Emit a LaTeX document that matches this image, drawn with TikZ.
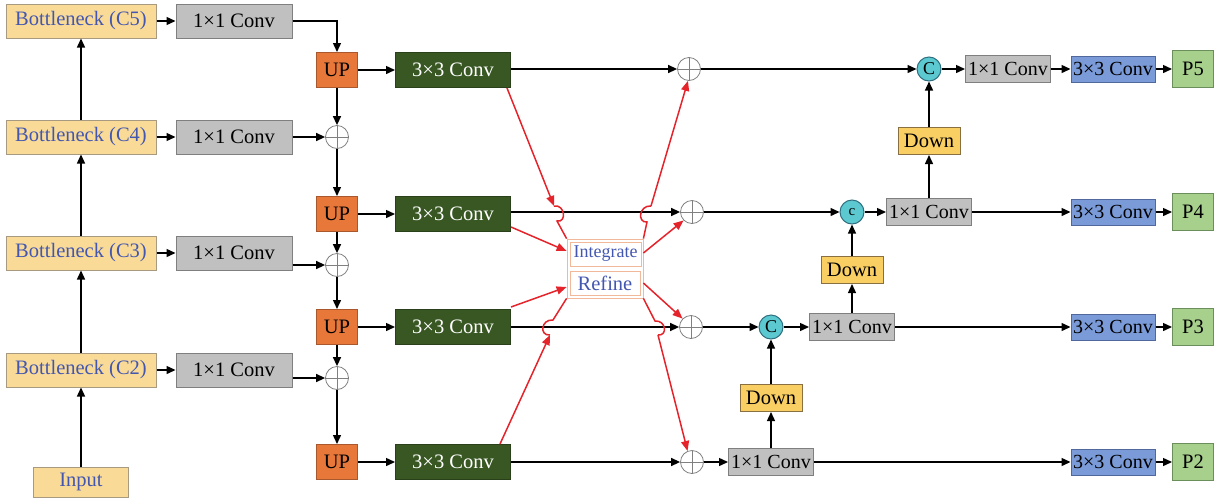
\documentclass[tikz,border=0pt]{standalone}
\usepackage{fontspec}
\setmainfont{Liberation Serif}
\usetikzlibrary{arrows.meta,calc}
\definecolor{bottfill}{HTML}{F9DB97}
\definecolor{bottdraw}{HTML}{A89A80}
\definecolor{bluetext}{HTML}{4356B0}
\definecolor{grayfill}{HTML}{C0C0C0}
\definecolor{graydraw}{HTML}{7F7F7F}
\definecolor{upfill}{HTML}{E8773A}
\definecolor{updraw}{HTML}{A8582C}
\definecolor{greenfill}{HTML}{385723}
\definecolor{greendraw}{HTML}{2A401A}
\definecolor{bluefill}{HTML}{7A9BD8}
\definecolor{bluedraw}{HTML}{50689C}
\definecolor{pfill}{HTML}{A8D08D}
\definecolor{pdraw}{HTML}{6A8F5A}
\definecolor{downfill}{HTML}{F9CF63}
\definecolor{downdraw}{HTML}{8A7040}
\definecolor{cyanfill}{HTML}{5CC8CF}
\definecolor{cyandraw}{HTML}{2F6F80}
\definecolor{redline}{HTML}{E5232A}
\definecolor{peach}{HTML}{F2B89A}
\tikzset{
  base/.style={draw, line width=1pt, inner sep=0pt, font=\fontsize{20.5}{24}\selectfont},
  bott/.style={base, fill=bottfill, draw=bottdraw, text=bluetext, minimum width=150pt, minimum height=34pt},
  conva/.style={base, fill=grayfill, draw=graydraw, minimum width=116pt, minimum height=34pt},
  upbox/.style={base, fill=upfill, draw=updraw, minimum width=41pt, minimum height=35pt},
  gconv/.style={base, fill=greenfill, draw=greendraw, text=white, minimum width=115pt, minimum height=35pt},
  convb/.style={base, fill=grayfill, draw=graydraw, minimum width=85pt, minimum height=27pt, font=\fontsize{20}{24}\selectfont},
  bconv/.style={base, fill=bluefill, draw=bluedraw, minimum width=84pt, minimum height=26pt, font=\fontsize{20}{24}\selectfont},
  pbox/.style={base, fill=pfill, draw=pdraw, minimum width=41pt, minimum height=37pt},
  downbox/.style={base, fill=downfill, draw=downdraw, minimum width=62pt, minimum height=27pt},
  catc/.style={circle, draw=cyandraw, line width=1pt, fill=cyanfill, inner sep=0pt, minimum size=24pt, font=\fontsize{18}{20}\selectfont},
  addc/.style={circle, draw=gray, line width=0.8pt, fill=white, inner sep=0pt, minimum size=23pt,
    path picture={\draw[line width=1pt] (path picture bounding box.north) -- (path picture bounding box.south)
      (path picture bounding box.west) -- (path picture bounding box.east);}},
  arr/.style={line width=1.4pt, -{Triangle[length=9pt,width=8pt]}},
  rarr/.style={line width=1.5pt, draw=redline, -{Triangle[length=10pt,width=8pt]}, color=redline},
  rline/.style={line width=1.5pt, draw=redline},
}
\begin{document}
\begin{tikzpicture}[x=1pt,y=-1pt]
\useasboundingbox (0,0) rectangle (1219,499);
% left column
\node[bott] (b5) at (81,21) {Bottleneck (C5)};
\node[bott] (b4) at (81,137) {Bottleneck (C4)};
\node[bott] (b3) at (81,253) {Bottleneck (C3)};
\node[bott] (b2) at (81,370) {Bottleneck (C2)};
\node[bott, minimum width=95pt, minimum height=30pt] (inp) at (81,482) {Input};
\node[conva] (a5) at (234,21) {1×1 Conv};
\node[conva] (a4) at (234,137) {1×1 Conv};
\node[conva] (a3) at (234,253) {1×1 Conv};
\node[conva] (a2) at (234,370) {1×1 Conv};
% UP column
\node[upbox] (u1) at (337,70) {UP};
\node[upbox] (u2) at (337,214) {UP};
\node[upbox] (u3) at (337,327) {UP};
\node[upbox] (u4) at (337,462) {UP};
\node[addc] (q4) at (337,137) {};
\node[addc] (q3) at (337,265) {};
\node[addc] (q2) at (337,378) {};
% green convs
\node[gconv] (g1) at (453,70) {3×3 Conv};
\node[gconv] (g2) at (453,214) {3×3 Conv};
\node[gconv] (g3) at (453,327) {3×3 Conv};
\node[gconv] (g4) at (453,462) {3×3 Conv};
% integrate / refine
\node[draw=peach, line width=0.8pt, minimum width=76pt, minimum height=59pt, inner sep=0pt] (box) at (605,268.5) {};
\node[draw=peach, line width=0.8pt, minimum width=71pt, minimum height=24pt, inner sep=0pt, text=bluetext, font=\fontsize{18}{20}\selectfont] (integ) at (605.5,254) {Integrate};
\node[draw=peach, line width=0.8pt, minimum width=70pt, minimum height=24pt, inner sep=0pt, text=bluetext, font=\fontsize{20.5}{24}\selectfont] (refine) at (605,283) {Refine};
% right plus column
\node[addc] (p1) at (689,69) {};
\node[addc] (p2) at (692,212) {};
\node[addc] (p3) at (691,327) {};
\node[addc] (p4) at (692,462) {};
% concat circles
\node[catc] (c1) at (929,69) {C};
\node[catc, font=\fontsize{15}{18}\selectfont] (c2) at (852,212) {c};
\node[catc] (c3) at (771,327) {C};
% right 1x1 convs
\node[convb] (k1) at (1008,69) {1×1 Conv};
\node[convb] (k2) at (929,212) {1×1 Conv};
\node[convb] (k3) at (852,327) {1×1 Conv};
\node[convb] (k4) at (771,462) {1×1 Conv};
% down
\node[downbox] (d1) at (929,141) {Down};
\node[downbox] (d2) at (852,270) {Down};
\node[downbox] (d3) at (771,398) {Down};
% blue convs
\node[bconv] (e1) at (1113,69) {3×3 Conv};
\node[bconv] (e2) at (1113,212) {3×3 Conv};
\node[bconv] (e3) at (1113,327) {3×3 Conv};
\node[bconv] (e4) at (1113,462) {3×3 Conv};
% outputs
\node[pbox] (o5) at (1193,69) {P5};
\node[pbox] (o4) at (1193,212) {P4};
\node[pbox] (o3) at (1193,327) {P3};
\node[pbox] (o2) at (1193,462) {P2};

% backbone arrows
\draw[arr] (inp) -- (b2);
\draw[arr] (b2) -- (b3);
\draw[arr] (b3) -- (b4);
\draw[arr] (b4) -- (b5);
\draw[arr] (b5) -- (a5);
\draw[arr] (b4) -- (a4);
\draw[arr] (b3) -- (a3);
\draw[arr] (b2) -- (a2);
% top-down
\draw[arr] (a5.east) -| (u1.north);
\draw[arr] (u1) -- (q4);
\draw[arr] (q4) -- (u2);
\draw[arr] (u2) -- (q3);
\draw[arr] (q3) -- (u3);
\draw[arr] (u3) -- (q2);
\draw[arr] (q2) -- (u4);
\draw[arr] (a4.east |- q4) -- (q4.west);
\draw[arr] (a3.east |- q3) -- (q3.west);
\draw[arr] (a2.east |- q2) -- (q2.west);
\draw[arr] (u1) -- (g1);
\draw[arr] (u2) -- (g2);
\draw[arr] (u3) -- (g3);
\draw[arr] (u4) -- (g4);
\draw[arr] (g1.east |- p1) -- (p1.west);
\draw[arr] (g2.east |- p2) -- (p2.west);
\draw[arr] (g3.east |- p3) -- (p3.west);
\draw[arr] (g4.east |- p4) -- (p4.west);
% right side
\draw[arr] (p1) -- (c1);
\draw[arr] (c1) -- (k1);
\draw[arr] (k1) -- (e1);
\draw[arr] (e1) -- (o5);
\draw[arr] (p2) -- (c2);
\draw[arr] (c2) -- (k2);
\draw[arr] (k2) -- (e2);
\draw[arr] (e2) -- (o4);
\draw[arr] (p3) -- (c3);
\draw[arr] (c3) -- (k3);
\draw[arr] (k3) -- (e3);
\draw[arr] (e3) -- (o3);
\draw[arr] (p4) -- (k4);
\draw[arr] (k4) -- (e4);
\draw[arr] (e4) -- (o2);
\draw[arr] (k4) -- (d3);
\draw[arr] (d3) -- (c3);
\draw[arr] (k3) -- (d2);
\draw[arr] (d2) -- (c2);
\draw[arr] (k2) -- (d1);
\draw[arr] (d1) -- (c1);

% red connectors
\coordinate (h1a) at (554,206);
\coordinate (h1b) at (557,221);
\draw[rarr] ($(g1.south east)+(-4,0)$) -- (h1a);
\draw[rline] (h1a) .. controls (565,204) and (567,223) .. (h1b) -- (box.north west);

\draw[rarr] ($(g2.south east)+(0,-5)$) -- (box.west |- 0,251);
\draw[rarr] ($(g3.north east)+(0,-2)$) -- (box.west |- 0,287);
\draw[rarr] (box.east |- 0,253) -- (p2.225);
\draw[rarr] (box.east |- 0,283) -- (p3.135);

\coordinate (h6a) at (550,335);
\coordinate (h6b) at (553,320);
\draw[rarr] ($(g4.north east)+(-11,0)$) -- (h6a);
\draw[rline] (h6a) .. controls (539,336) and (541,319) .. (h6b) -- (box.south west);

\coordinate (h8a) at (647,222);
\coordinate (h8b) at (651,206);
\draw[rline] (box.north east) -- (h8a) .. controls (637,223) and (639,205) .. (h8b);
\draw[rarr] (h8b) -- (p1.265);

\coordinate (h7a) at (655,321);
\coordinate (h7b) at (658,335);
\draw[rline] (box.south east) -- (h7a) .. controls (666,320) and (668,336) .. (h7b);
\draw[rarr] (h7b) -- (p4.112);
\end{tikzpicture}
\end{document}
